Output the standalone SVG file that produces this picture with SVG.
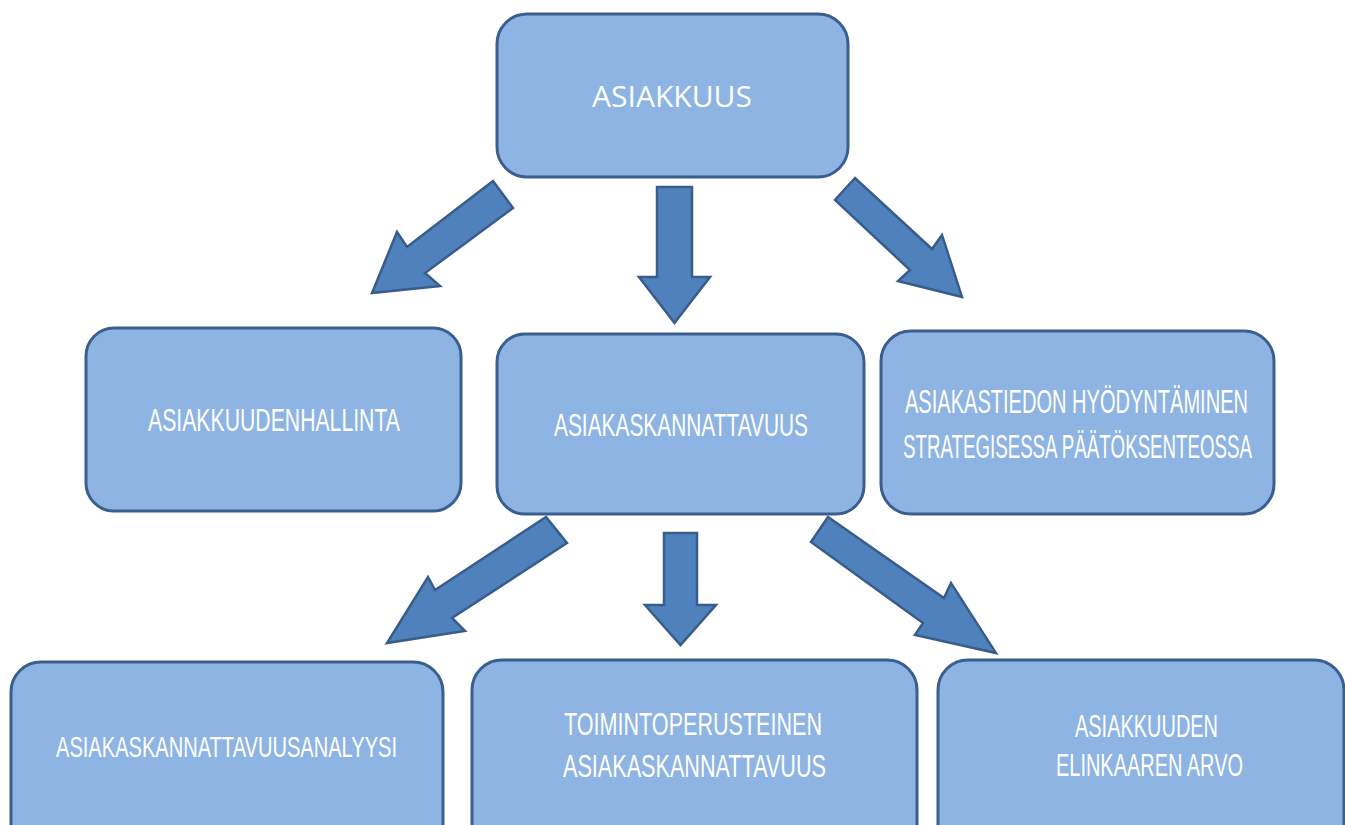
<svg xmlns="http://www.w3.org/2000/svg" width="1345" height="825" viewBox="0 0 1345 825">
<style>
.box{fill:#8EB4E3;stroke:#3A5F8F;stroke-width:3}
.arr{fill:#4F81BD;stroke:#385D8A;stroke-width:2.5;stroke-linejoin:miter}
.t{fill:#FFFFFF;font-family:"Liberation Sans",Arial,sans-serif;font-size:31px}
.t0{fill:#FFFFFF;font-family:"Open Sans","Liberation Sans",sans-serif;font-size:30px}
.ts{fill:#FFFFFF;font-family:"Liberation Sans",Arial,sans-serif;font-size:20px}
</style>
<rect width="1345" height="825" fill="#FFFFFF"/>
<g id="connectors">
<polygon class="arr" points="493,181 407,247 397,232 372,293 440,286 425,273 513,208"/>
<polygon class="arr" points="657,187 692,187 692,277 710,277 674.5,323 639,277 657,277"/>
<polygon class="arr" points="855,178 835,200 910,270 898,281 962,297 942,235 932,249"/>
<polygon class="arr" points="546,517 435,590 428,577 387,643 465,631 452,618 567,543"/>
<polygon class="arr" points="664,533 697,533 697,605 716,605 680.5,645 645,605 664,605"/>
<polygon class="arr" points="828,517 811,542 923,623 915,635 996,653 951,583 944,598"/>
</g>
<g id="asiakkuus">
<rect class="box" x="497" y="14" width="351" height="163" rx="30"/>
<text class="t0" x="592" y="107" textLength="160" lengthAdjust="spacingAndGlyphs">ASIAKKUUS</text>
</g>
<g id="asiakkuudenhallinta">
<rect class="box" x="86" y="328" width="375" height="183" rx="28"/>
<text class="t" x="148" y="431" textLength="252" lengthAdjust="spacingAndGlyphs">ASIAKKUUDENHALLINTA</text>
</g>
<g id="asiakaskannattavuus">
<rect class="box" x="497" y="334" width="367" height="180" rx="28"/>
<text class="t" x="554" y="436" textLength="254" lengthAdjust="spacingAndGlyphs">ASIAKASKANNATTAVUUS</text>
</g>
<g id="asiakastiedon">
<rect class="box" x="881" y="331" width="393" height="183" rx="30"/>
<text class="ts" transform="translate(905,412.5) scale(1,1.65)" x="0" y="0" textLength="343" lengthAdjust="spacingAndGlyphs">ASIAKASTIEDON HYÖDYNTÄMINEN</text>
<text class="ts" transform="translate(903,458) scale(1,1.65)" x="0" y="0" textLength="349" lengthAdjust="spacingAndGlyphs">STRATEGISESSA PÄÄTÖKSENTEOSSA</text>
</g>
<g id="analyysi">
<rect class="box" x="11" y="662" width="432" height="200" rx="30"/>
<text class="t" x="56" y="757" style="font-size:30px" textLength="341" lengthAdjust="spacingAndGlyphs">ASIAKASKANNATTAVUUSANALYYSI</text>
</g>
<g id="toimintoperusteinen">
<rect class="box" x="472" y="660" width="445" height="200" rx="30"/>
<text class="t" x="564" y="735" textLength="258" lengthAdjust="spacingAndGlyphs">TOIMINTOPERUSTEINEN</text>
<text class="t" x="563" y="777" textLength="263" lengthAdjust="spacingAndGlyphs">ASIAKASKANNATTAVUUS</text>
</g>
<g id="elinkaari">
<rect class="box" x="938" y="660" width="406" height="200" rx="30"/>
<text class="t" x="1075" y="737" textLength="143" lengthAdjust="spacingAndGlyphs">ASIAKKUUDEN</text>
<text class="t" x="1056" y="776" textLength="187" lengthAdjust="spacingAndGlyphs">ELINKAAREN ARVO</text>
</g>
</svg>
